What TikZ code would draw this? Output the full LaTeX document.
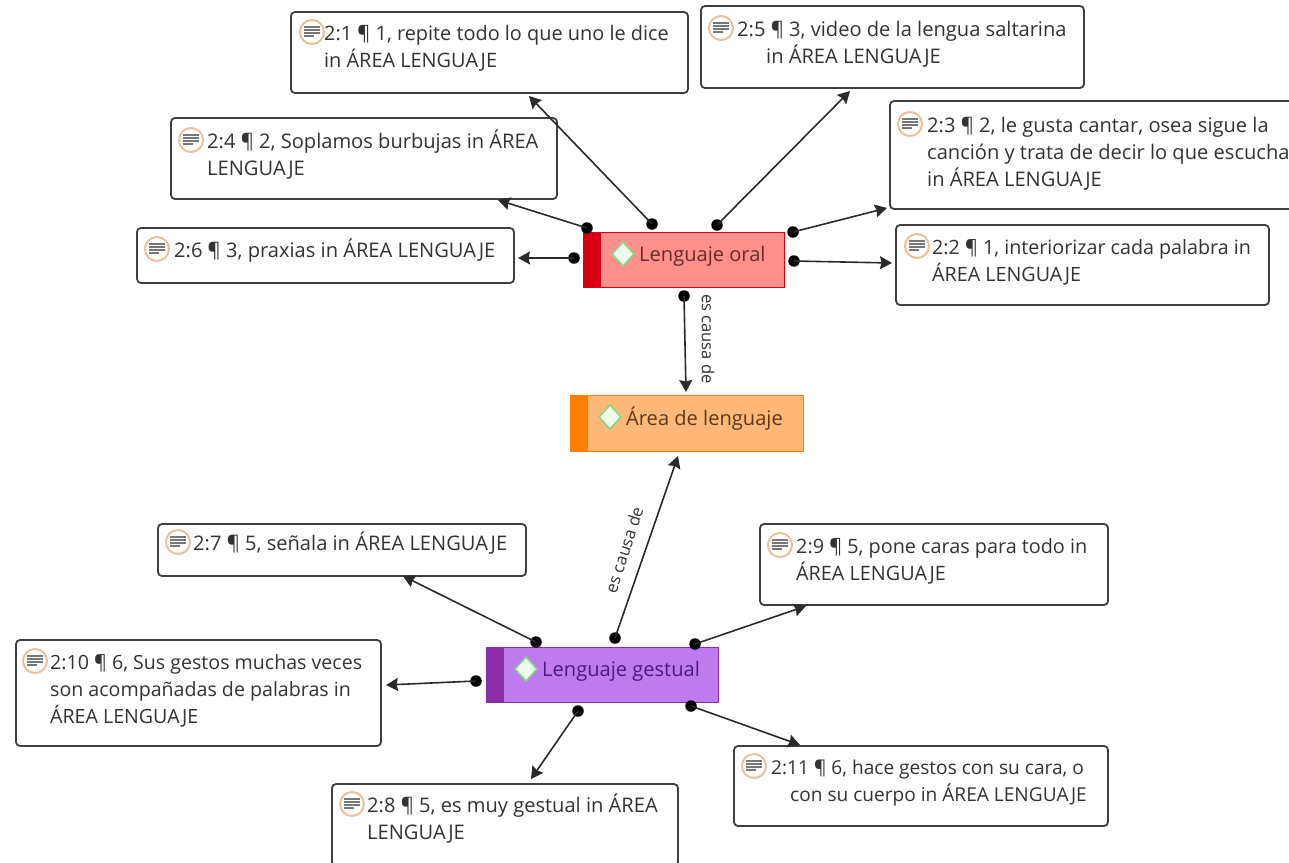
\documentclass[tikz,border=0pt]{standalone}
\usepackage{fontspec}
\setmainfont{Open Sans}
\usetikzlibrary{arrows.meta}
\definecolor{txt}{HTML}{333333}
\definecolor{ring}{HTML}{E9C29A}
\definecolor{lines}{HTML}{777777}
\definecolor{edgec}{HTML}{2A2A2A}
\newcommand{\fsz}[1]{\fontsize{#1}{27}\selectfont}
\tikzset{
  x=1pt,y=-1pt,
  memobox/.style={draw=edgec!90,line width=1.8pt,rounded corners=4pt,fill=white},
  memotext/.style={anchor=north west,inner sep=0pt,align=left,text=txt,font=\fontsize{20.1}{27}\selectfont},
  codetext/.style={anchor=west,inner sep=0pt,font=\fontsize{20.1}{22}\selectfont},
  pin/.style={circle,fill=black,inner sep=0pt,minimum size=11.5pt},
  link/.style={-{Stealth[length=12pt,width=13pt,inset=1.5pt]},line width=1.6pt,edgec},
  rel/.style={inner sep=0pt,text=txt,font=\fontsize{16.6}{18}\selectfont},
  diam/.style={draw=green!30!lightgray,line width=1.5pt,fill=white!92!green}
}
\newcommand{\memoicon}[2]{%
  \draw[ring,line width=2pt,fill=white] (#1,#2) circle (12);
  \foreach \dy/\w in {-5/8,-2/8,1/8,4/5}{\draw[lines,line width=1.2pt] (#1-8,#2+\dy) -- (#1-8+2*\w,#2+\dy);}
}
\newcommand{\memo}[9]{% name,x1,y1,x2,y2,iconx,icony,textx,text
  \path[memobox] (#2,#3) rectangle (#4,#5);
  \coordinate (#1) at (#2,#3);
  \memoicon{#6}{#7}
  \node[memotext] (#1t) at (#8,#7-14) {\rule{0pt}{22pt}#9};
}
\newcommand{\code}[9]{% name,x1,y1,x2,y2,bandx,fill,band,text
  \node[draw=#8,line width=1pt,fill=#7,minimum width=#4pt-#2pt,minimum height=#5pt-#3pt,inner sep=0pt,anchor=north west] (#1) at (#2,#3) {};
  \fill[#8] (#2,#3) rectangle (#6,#5);
  \draw[diam] (#6+22,#3+10) -- (#6+33,#3+22) -- (#6+22,#3+34) -- (#6+11,#3+22) -- cycle;
  \node[codetext] (#1t) at (#6+38,#3+24) {#9};
}
\definecolor{oralf}{HTML}{FF908C}\definecolor{oralb}{HTML}{D9000F}
\definecolor{areaf}{HTML}{FFB877}\definecolor{areab}{HTML}{FF7F00}
\definecolor{gestf}{HTML}{BE7BF0}\definecolor{gestb}{HTML}{8A2CA6}
\begin{document}
\begin{tikzpicture}
\useasboundingbox (0,0) rectangle (1289,862);
\memo{b1}{291}{12}{688}{93}{312}{32}{324}{\fsz{19.9}2:1 ¶ 1, repite todo lo que uno le dice\\\fsz{19.9}in ÁREA LENGUAJE}
\memo{b5}{701}{6}{1084}{88}{721}{28}{737}{2:5 ¶ 3, video de la lengua saltarina\\\hspace*{29pt}in ÁREA LENGUAJE}
\memo{b3}{890}{101}{1294}{209}{910}{124}{927}{2:3 ¶ 2, le gusta cantar, osea sigue la\\canción y trata de decir lo que escucha\\in ÁREA LENGUAJE}
\memo{b4}{171}{118}{557}{199}{191}{140}{207}{2:4 ¶ 2, Soplamos burbujas in ÁREA\\LENGUAJE}
\memo{b6}{137}{228}{514}{283}{157}{249}{174}{2:6 ¶ 3, praxias in ÁREA LENGUAJE}
\memo{b2}{896}{225}{1269}{305}{917}{246}{932}{\fsz{19.7}2:2 ¶ 1, interiorizar cada palabra in\\\fsz{19.7}ÁREA LENGUAJE}
\memo{b7}{158}{524}{526}{576}{178}{542}{193}{2:7 ¶ 5, señala in ÁREA LENGUAJE}
\memo{b9}{760}{524}{1108}{605}{780}{545}{796}{\fsz{19.8}2:9 ¶ 5, pone caras para todo in\\\fsz{19.8}ÁREA LENGUAJE}
\memo{b10}{16}{640}{381}{746}{35}{661}{50}{\fsz{19.6}2:10 ¶ 6, Sus gestos muchas veces\\\fsz{19.6}son acompañadas de palabras in\\\fsz{19.6}ÁREA LENGUAJE}
\memo{b11}{734}{746}{1108}{826}{754}{766}{771}{\fsz{19.1}2:11 ¶ 6, hace gestos con su cara, o\\\fsz{19.1}\hspace*{19pt}con su cuerpo in ÁREA LENGUAJE}
\memo{b8}{332}{784}{678}{866}{352}{804}{367}{2:8 ¶ 5, es muy gestual in ÁREA\\LENGUAJE}

\code{oral}{583}{232}{784}{287}{601}{oralf}{oralb}{\textcolor[HTML]{6A2A2A}{Lenguaje oral}}
\code{area}{570}{395}{803}{451}{588}{areaf}{areab}{\textcolor[HTML]{5C3A18}{Área de lenguaje}}
\code{gest}{486}{647}{718}{702}{504}{gestf}{gestb}{\textcolor[HTML]{4A1A80}{Lenguaje gestual}}

\node[pin] (p1) at (652,224) {}; \coordinate (e1) at (529,96);
\node[pin] (p5) at (717,225) {}; \coordinate (e5) at (850,91);
\node[pin] (p4) at (587,228) {}; \coordinate (e4) at (498,200);
\node[pin] (p6) at (574,258) {}; \coordinate (e6) at (518,258);
\node[pin] (p3) at (793,232) {}; \coordinate (e3) at (887,208);
\node[pin] (p2) at (794,261) {}; \coordinate (e2) at (892,263);
\node[pin] (p0) at (684,296) {}; \coordinate (e0) at (686,392);
\node[pin] (g0) at (615,638) {}; \coordinate (f0) at (678,456);
\node[pin] (g7) at (536,642) {}; \coordinate (f7) at (403,576);
\node[pin] (g9) at (695,644) {}; \coordinate (f9) at (806,606);
\node[pin] (g10) at (476,681) {}; \coordinate (f10) at (386,685);
\node[pin] (g8) at (578,711) {}; \coordinate (f8) at (531,779);
\node[pin] (g11) at (691,706) {}; \coordinate (f11) at (800,745);
\foreach \a/\b in {p1/e1,p5/e5,p4/e4,p6/e6,p3/e3,p2/e2,p0/e0,g0/f0,g7/f7,g9/f9,g10/f10,g8/f8,g11/f11}{\draw[link] (\a.center) -- (\b);}
\node[rel,rotate=-90] (r1) at (708,339) {es causa de};
\node[rel,rotate=72] (r2) at (624,550) {es causa de};
\end{tikzpicture}
\end{document}
